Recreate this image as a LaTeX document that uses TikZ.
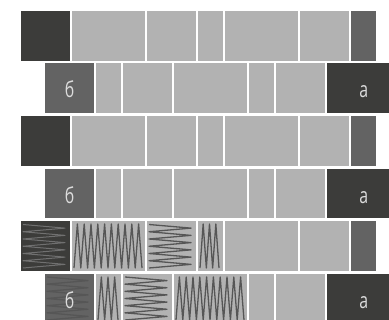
\documentclass[tikz,border=0pt]{standalone}
\usepackage{fontspec}
\usepackage{tikz}
\newfontfamily\brickfont[FakeStretch=0.72]{Open Sans}
\definecolor{brickdark}{HTML}{3C3C3A}
\definecolor{brickmid}{HTML}{636363}
\definecolor{bricklight}{HTML}{B2B2B2}
\definecolor{zigdark}{HTML}{565656}
\definecolor{ziglight}{HTML}{707070}
\definecolor{labelgray}{HTML}{DCDCDC}

% zigzag going left to right: x1, x2, top, bottom, segments
\newcommand{\vzigzag}[6][zigline]{%
  \draw[#1] (#2,#5) \foreach \i in {1,...,#6} {
    -- ({#2+\i*(#3-#2)/#6},{isodd(\i)*#4+(1-isodd(\i))*#5})};
}
% zigzag going top to bottom: x1, x2, top, bottom, segments
\newcommand{\hzigzag}[6][zigline]{%
  \draw[#1] (#2,#4) \foreach \i in {1,...,#6} {
    -- ({isodd(\i)*#3+(1-isodd(\i))*#2},{#4+\i*(#5-#4)/#6})};
}

\begin{document}
\begin{tikzpicture}[
    x=1pt, y=-1pt,
    brick/.style={
        fill=#1,
        anchor=north west,
        inner sep=0pt,
        minimum height=49.7pt
    },
    brick label/.style={
        anchor=base,
        inner sep=0pt,
        text=labelgray,
        font=\brickfont\fontsize{22}{24}\selectfont
    },
    zigline/.style={draw=zigdark, line width=1.3pt, line join=round},
    zigfaint/.style={draw=ziglight, line width=1pt, line join=round}
]
\useasboundingbox (0,0) rectangle (389,320);
\clip (0,0) rectangle (389,320);

\foreach \top/\r in {11/1, 116/3, 221/5} {
    \foreach \x/\w/\kind [count=\c] in {21/49/brickdark, 72/73/bricklight,
        147/49/bricklight, 198/25/bricklight, 225/73/bricklight,
        300/49/bricklight, 351/25/brickmid}
        \node[brick=\kind, minimum width=\w pt] (r\r c\c) at (\x,\top) {};
}
\foreach \top/\r in {63/2, 168.5/4, 273.5/6} {
    \foreach \x/\w/\kind [count=\c] in {45/49/brickmid, 96/25/bricklight,
        123/49/bricklight, 174/73/bricklight, 249/25/bricklight,
        276/49/bricklight, 327/73/brickdark}
        \node[brick=\kind, minimum width=\w pt] (r\r c\c) at (\x,\top) {};
}

% filled bricks
\hzigzag[zigfaint]{23}{65}{224.5}{268}{12}
\vzigzag{74}{142}{224}{268}{20}
\hzigzag{149}{191}{224.5}{268}{12}
\vzigzag{200}{219}{224}{268}{6}
\hzigzag{47}{88}{277}{320}{12}
\vzigzag{98}{118}{277}{320}{6}
\hzigzag{125}{167}{277}{320}{12}
\vzigzag{176}{244}{277}{320}{20}

\foreach \r in {2,4,6} {
    \node[brick label, yshift=-34.7pt] (left\r) at (r\r c1.north) {б};
    \node[brick label, yshift=-34.7pt] (right\r) at (r\r c7.north) {а};
}
\end{tikzpicture}
\end{document}
